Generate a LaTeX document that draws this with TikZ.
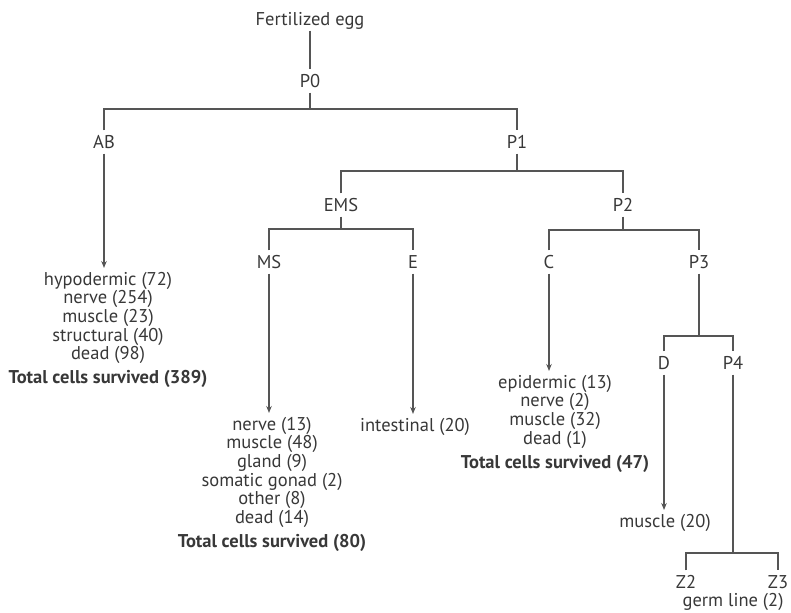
\documentclass[tikz,border=0pt]{standalone}
\usepackage{fontspec}
\setmainfont{PT Sans}
\usetikzlibrary{arrows.meta}
\definecolor{ink}{HTML}{383838}
\definecolor{wire}{HTML}{555555}
\begin{document}
\begin{tikzpicture}[x=1pt,y=-1pt,
  cell/.style={text=ink, font=\fontsize{18.5}{18.6}\selectfont, inner sep=0pt, minimum height=23pt, text height=12.8pt, text depth=0pt},
  list/.style={text=ink, font=\fontsize{18.5}{18.6}\selectfont, align=center, inner sep=0pt, anchor=north},
  link/.style={draw=wire, line width=1.2pt},
  arr/.style={link, -{Stealth[length=7pt,width=5.5pt]}, shorten >=4pt}]
\useasboundingbox (0,0) rectangle (791,612);

% cell nodes
\node[cell] (egg) at (310,19) {Fertilized egg};
\node[cell] (P0) at (310,81) {P0};
\node[cell] (AB) at (104,142) {AB};
\node[cell] (P1) at (517,142) {P1};
\node[cell] (EMS) at (341,205) {EMS};
\node[cell] (P2) at (623,205) {P2};
\node[cell] (MS) at (269,262) {MS};
\node[cell] (E) at (413,262) {E};
\node[cell] (C) at (549,262) {C};
\node[cell] (P3) at (699,262) {P3};
\node[cell] (D) at (664,363) {D};
\node[cell] (P4) at (733,363) {P4};
\node[cell] (Z2) at (686,582) {Z2};
\node[cell] (Z3) at (778,582) {Z3};
\node[cell] (germ) at (733,600) {germ line (2)};

% fate lists
\node[list] (ABl) at (108,272) {hypodermic (72)\\ nerve (254)\\ muscle (23)\\ structural (40)\\ dead (98)\\[5.5pt] \textbf{Total cells survived (389)}};
\node[list] (MSl) at (272,417) {nerve (13)\\ muscle (48)\\ gland (9)\\ somatic gonad (2)\\ other (8)\\ dead (14)\\[5.5pt] \textbf{Total cells survived (80)}};
\node[list] (El) at (415,418) {intestinal (20)};
\node[list] (Cl) at (555,375) {epidermic (13)\\ nerve (2)\\ muscle (32)\\ dead (1)\\[5.5pt] \textbf{Total cells survived (47)}};
\node[list] (Dl) at (665,514) {muscle (20)};

% branch points
\coordinate (b0) at (310,109);
\coordinate (b1) at (517,171);
\coordinate (bE) at (341,229);
\coordinate (b2) at (623,230);
\coordinate (b3) at (699,336);
\coordinate (b4) at (733,553);

% connectors
\draw[link] (egg.south) -- (P0.north);
\draw[link] (P0.south) -- (b0);
\draw[link] (AB.north) -- (AB.north |- b0) -- (P1.north |- b0) -- (P1.north);
\draw[link] (P1.south) -- (b1);
\draw[link] (EMS.north) -- (EMS.north |- b1) -- (P2.north |- b1) -- (P2.north);
\draw[link] (EMS.south) -- (bE);
\draw[link] (MS.north) -- (MS.north |- bE) -- (E.north |- bE) -- (E.north);
\draw[link] (P2.south) -- (b2);
\draw[link] (C.north) -- (C.north |- b2) -- (P3.north |- b2) -- (P3.north);
\draw[link] (P3.south) -- (b3);
\draw[link] (D.north) -- (D.north |- b3) -- (P4.north |- b3) -- (P4.north);
\draw[link] (P4.south) -- (b4);
\draw[link] (Z2.north) -- (Z2.north |- b4) -- (Z3.north |- b4) -- (Z3.north);

\draw[arr] (AB.south) -- (AB.south |- ABl.north);
\draw[arr] (MS.south) -- (MS.south |- MSl.north);
\draw[arr] (E.south) -- (E.south |- El.north);
\draw[arr] (C.south) -- (C.south |- Cl.north);
\draw[arr] (D.south) -- (D.south |- Dl.north);
\end{tikzpicture}
\end{document}
